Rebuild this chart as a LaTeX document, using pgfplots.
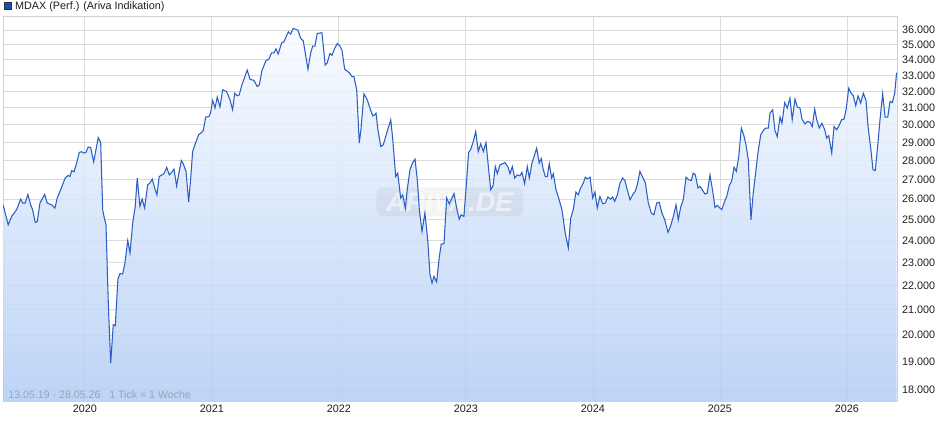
\documentclass[border=0pt]{standalone}
\usepackage{fontspec}
\setmainfont{Liberation Sans}
\usepackage{pgfplots}
\usepackage{pgfplotstable}
\pgfplotsset{compat=1.18}
\definecolor{linecol}{HTML}{2A5EC4}
\definecolor{fillbot}{HTML}{B3CDF5}
\definecolor{filltop}{HTML}{F8FBFF}
\definecolor{gridcol}{HTML}{DADADA}
\definecolor{framecol}{HTML}{D2D2D2}
\definecolor{notecol}{HTML}{98A3B5}
\definecolor{legcol}{HTML}{1A4DB3}

\pgfplotstableread{
t v
2019.357 25680
2019.396 24740
2019.423 25140
2019.462 25470
2019.494 25990
2019.510 25800
2019.530 25800
2019.551 26230
2019.573 25710
2019.588 25470
2019.609 24850
2019.625 24900
2019.646 25800
2019.683 26230
2019.703 25800
2019.738 25710
2019.764 25550
2019.782 26050
2019.809 26470
2019.845 27080
2019.869 27210
2019.882 27150
2019.896 27460
2019.914 27400
2019.935 27860
2019.955 28440
2019.974 28480
2019.992 28410
2020.008 28440
2020.026 28740
2020.045 28710
2020.069 27930
2020.087 28590
2020.105 29270
2020.124 28990
2020.140 25470
2020.150 25140
2020.166 24740
2020.184 21280
2020.203 18950
2020.223 20410
2020.239 20370
2020.260 22290
2020.276 22520
2020.297 22500
2020.315 22980
2020.337 24000
2020.355 23430
2020.376 24820
2020.396 25630
2020.412 27070
2020.433 25630
2020.451 26000
2020.470 25550
2020.494 26720
2020.512 26810
2020.530 27020
2020.549 26560
2020.567 26210
2020.585 27150
2020.607 27240
2020.622 27300
2020.644 27630
2020.664 27240
2020.683 27370
2020.701 27540
2020.722 26660
2020.740 27330
2020.759 28000
2020.774 27830
2020.796 27420
2020.817 25850
2020.833 27070
2020.848 28490
2020.869 28920
2020.895 29430
2020.919 29560
2020.932 29670
2020.951 30450
2020.977 30480
2020.990 30720
2021.006 31440
2021.024 30980
2021.042 31640
2021.063 31040
2021.085 32090
2021.116 31980
2021.142 31480
2021.163 30880
2021.179 31880
2021.199 31720
2021.215 31780
2021.236 32400
2021.260 32920
2021.278 33340
2021.299 32760
2021.331 32670
2021.357 32290
2021.373 32400
2021.394 33300
2021.425 33940
2021.447 34030
2021.470 34460
2021.488 34460
2021.504 34730
2021.522 34380
2021.549 35130
2021.567 35200
2021.601 35880
2021.620 35730
2021.640 36120
2021.677 36000
2021.699 35430
2021.719 35270
2021.756 33390
2021.777 34420
2021.793 34910
2021.811 34910
2021.829 35770
2021.866 35820
2021.892 33660
2021.908 33810
2021.929 34420
2021.945 34290
2021.966 34750
2021.987 35090
2022.008 34910
2022.024 34640
2022.045 33390
2022.081 33170
2022.103 32920
2022.118 32920
2022.140 32090
2022.160 28960
2022.173 29710
2022.197 31840
2022.223 31480
2022.244 30980
2022.266 30520
2022.281 30580
2022.292 30680
2022.307 29710
2022.329 28770
2022.349 28860
2022.376 29520
2022.408 30290
2022.423 29240
2022.447 27150
2022.463 27330
2022.486 26050
2022.502 26210
2022.523 25550
2022.538 26470
2022.559 27510
2022.581 27890
2022.599 28080
2022.617 26980
2022.633 25470
2022.654 24420
2022.677 25310
2022.699 24030
2022.717 22480
2022.733 22110
2022.748 22400
2022.769 22160
2022.790 23250
2022.806 23850
2022.827 23850
2022.848 26050
2022.869 25760
2022.906 26270
2022.927 25550
2022.947 25010
2022.963 25220
2022.984 25140
2023.006 26980
2023.021 28440
2023.037 28590
2023.058 29050
2023.077 29610
2023.097 28490
2023.116 28920
2023.137 28490
2023.158 28990
2023.179 27510
2023.195 26470
2023.213 26660
2023.231 27680
2023.247 27300
2023.268 27770
2023.307 27890
2023.329 27680
2023.347 27300
2023.365 27680
2023.384 27070
2023.404 27240
2023.425 27190
2023.441 27370
2023.462 26780
2023.483 27680
2023.499 27070
2023.520 27860
2023.557 28680
2023.577 27860
2023.593 28110
2023.609 27510
2023.625 27150
2023.640 27150
2023.656 27830
2023.675 27070
2023.688 27300
2023.709 26470
2023.730 26050
2023.756 25470
2023.782 24340
2023.806 23660
2023.825 25060
2023.845 25470
2023.866 26350
2023.884 26210
2023.903 26560
2023.924 26810
2023.940 27120
2023.955 27020
2023.977 27120
2023.998 26050
2024.016 26350
2024.034 25550
2024.055 26130
2024.077 25760
2024.097 25800
2024.118 26100
2024.140 25990
2024.155 26100
2024.171 25880
2024.192 26210
2024.213 26810
2024.234 27070
2024.252 26940
2024.270 26470
2024.292 25960
2024.313 26210
2024.333 26390
2024.349 26720
2024.370 27420
2024.391 27120
2024.412 26840
2024.436 25800
2024.459 25310
2024.480 25220
2024.502 25800
2024.522 25830
2024.543 25310
2024.565 24980
2024.591 24380
2024.612 24690
2024.633 25140
2024.654 25710
2024.672 24980
2024.691 25600
2024.711 25960
2024.733 27120
2024.754 26980
2024.774 26940
2024.790 27330
2024.806 27240
2024.827 26560
2024.843 26640
2024.882 26250
2024.900 26300
2024.921 27240
2024.943 26390
2024.961 25580
2024.979 25680
2025.014 25470
2025.037 25880
2025.053 26130
2025.074 26680
2025.093 26940
2025.111 27650
2025.129 27420
2025.148 28220
2025.168 29810
2025.189 29360
2025.205 28860
2025.223 28040
2025.244 24980
2025.262 26300
2025.284 27510
2025.299 28410
2025.321 29430
2025.341 29670
2025.362 29810
2025.381 29810
2025.394 30680
2025.415 30880
2025.433 29670
2025.451 29320
2025.473 30450
2025.488 30090
2025.510 31310
2025.530 30980
2025.551 31580
2025.569 30290
2025.591 31520
2025.609 31040
2025.630 30980
2025.646 30330
2025.669 30050
2025.688 30190
2025.709 30150
2025.727 29900
2025.746 30920
2025.762 30290
2025.782 29810
2025.803 30090
2025.825 29710
2025.840 29240
2025.856 29380
2025.880 28410
2025.898 29900
2025.919 29710
2025.940 29990
2025.958 30290
2025.977 30330
2025.993 30880
2026.014 32190
2026.030 31920
2026.050 31720
2026.069 31120
2026.087 31720
2026.108 31280
2026.129 31880
2026.150 31440
2026.166 29900
2026.187 28680
2026.205 27510
2026.223 27470
2026.244 28960
2026.260 30290
2026.281 31840
2026.300 30450
2026.321 30450
2026.339 31380
2026.357 31310
2026.376 31880
2026.391 33170
}\mdax

\begin{document}
\begin{tikzpicture}
\useasboundingbox (0,0) rectangle (940bp,435bp);
\begin{axis}[
  at={(3bp,34bp)}, anchor=south west,
  scale only axis, width=894bp, height=385bp,
  ymode=log, log origin y=infty,
  xmin=2019.355, xmax=2026.394, ymin=17620, ymax=37000,
  xtick={2020,2021,2022,2023,2024,2025,2026},
  xticklabels={2020,2021,2022,2023,2024,2025,2026},
  ytick={18000,19000,20000,21000,22000,23000,24000,25000,26000,27000,28000,29000,30000,31000,32000,33000,34000,35000,36000},
  yticklabels={18.000,19.000,20.000,21.000,22.000,23.000,24.000,25.000,26.000,27.000,28.000,29.000,30.000,31.000,32.000,33.000,34.000,35.000,36.000},
  yticklabel pos=right,
  minor ytick={},
  grid=major, major grid style={draw=gridcol, line width=0.9bp},
  major tick length=0pt, minor tick length=0pt,
  axis line style={draw=framecol, line width=0.8bp},
  tick label style={font=\fontsize{10.8bp}{13bp}\selectfont, text=black!88, inner sep=0pt},
  xticklabel style={anchor=north, yshift=-3.5bp},
  yticklabel style={anchor=west, xshift=5bp},
]
\addplot[draw=none, top color=filltop, bottom color=fillbot, fill opacity=0.86] table {\mdax} \closedcycle;
\node[fill=black, fill opacity=0.045, text=white, text opacity=0.55, rounded corners=7bp,
      minimum width=147bp, minimum height=29bp, inner sep=0pt,
      font=\fontsize{27bp}{27bp}\selectfont\bfseries\itshape]
      at (axis cs:2022.874,25860) {ARIVA.DE};
\addplot[draw=linecol, line width=1.05bp, mark=none] table {\mdax};
\end{axis}
\node[anchor=base west, text=notecol, inner sep=0pt, font=\fontsize{10.6bp}{12bp}\selectfont] at (8.3bp,36.6bp) {13.05.19 - 28.05.26\ \ \ 1 Tick = 1 Woche};
\filldraw[fill=legcol, draw=black!80, line width=0.6bp] (4.2bp,425.6bp) rectangle (11.2bp,432.6bp);
\node[anchor=base west, inner sep=0pt, text=black!88, font=\fontsize{10.8bp}{13bp}\selectfont] at (15bp,425bp) {MDAX (Perf.) (Ariva Indikation)};
\end{tikzpicture}
\end{document}
